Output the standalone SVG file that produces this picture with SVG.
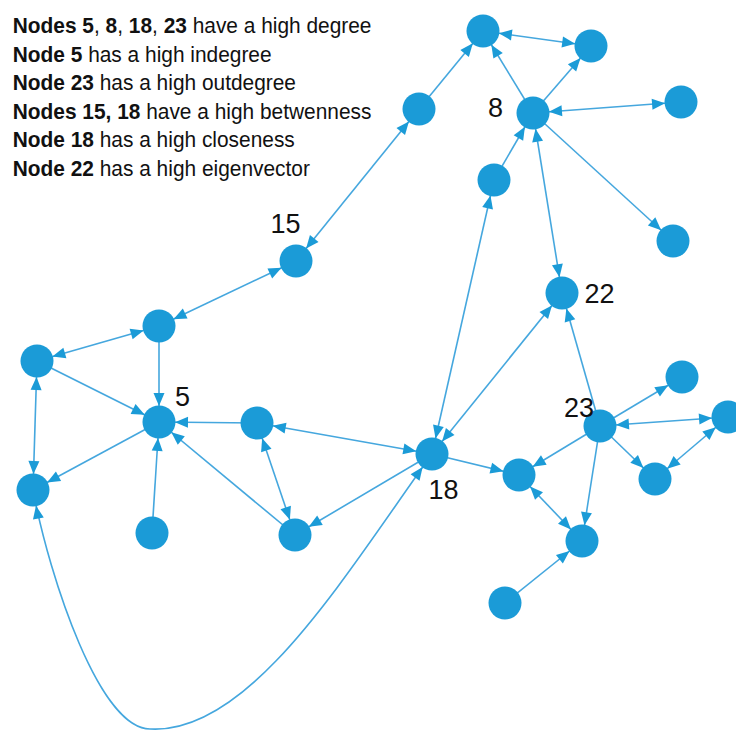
<svg xmlns="http://www.w3.org/2000/svg" width="736" height="731" viewBox="0 0 736 731">
  <style>
    .edge { fill: none; stroke: #45a7de; stroke-width: 1.6; }
    .uni { marker-end: url(#head); }
    .bi { marker-start: url(#head); marker-end: url(#head); }
    .node circle { fill: #1b9bd7; }
    .lbl { font-family: "Liberation Sans", Arial, sans-serif; font-size: 27px; fill: #111; text-anchor: middle; }
    .note { font-family: "Liberation Sans", Arial, sans-serif; font-size: 22px; fill: #111; }
    .note tspan.b { font-weight: bold; }
  </style>
  <defs>
    <!-- arrowhead tip sits on the rim of a 16.5px node -->
    <marker id="head" markerUnits="userSpaceOnUse" markerWidth="14" markerHeight="12" refX="29" refY="0" orient="auto-start-reverse" overflow="visible">
      <path d="M0,-5.5 L13,0 L0,5.5 Z" fill="#1b9bd7"/>
    </marker>
  </defs>
  <rect width="736" height="731" fill="#fff"/>

  <!-- notes, slightly condensed -->
  <g id="notes" transform="translate(12.7,0) scale(0.95,1)">
    <text class="note" x="0" y="33"><tspan class="b">Nodes 5</tspan>, <tspan class="b">8</tspan>, <tspan class="b">18</tspan>, <tspan class="b">23</tspan> have a high degree</text>
    <text class="note" x="0" y="62"><tspan class="b">Node 5</tspan> has a high indegree</text>
    <text class="note" x="0" y="90.5"><tspan class="b">Node 23</tspan> has a high outdegree</text>
    <text class="note" x="0" y="119"><tspan class="b">Nodes 15, 18</tspan> have a high betwenness</text>
    <text class="note" x="0" y="147.5"><tspan class="b">Node 18</tspan> has a high closeness</text>
    <text class="note" x="0" y="176"><tspan class="b">Node 22</tspan> has a high eigenvector</text>
  </g>

  <!-- connectors, drawn centre to centre; nodes cover the ends -->
  <g id="connectors">
    <line class="edge uni" x1="419" y1="109" x2="483" y2="31"/>
    <line class="edge bi"  x1="483" y1="31" x2="591" y2="46"/>
    <line class="edge uni" x1="533" y1="113" x2="483" y2="31"/>
    <line class="edge uni" x1="533" y1="113" x2="591" y2="46"/>
    <line class="edge bi"  x1="533" y1="113" x2="681" y2="102"/>
    <line class="edge uni" x1="494" y1="180" x2="533" y2="113"/>
    <line class="edge bi"  x1="533" y1="113" x2="562" y2="293"/>
    <line class="edge uni" x1="533" y1="113" x2="673" y2="241"/>
    <line class="edge bi"  x1="419" y1="109" x2="296" y2="261"/>
    <line class="edge bi"  x1="296" y1="261" x2="159" y2="326"/>
    <line class="edge bi"  x1="494" y1="180" x2="432" y2="454"/>
    <line class="edge bi"  x1="432" y1="454" x2="562" y2="293"/>
    <line class="edge uni" x1="600" y1="426" x2="562" y2="293"/>
    <line class="edge uni" x1="600" y1="426" x2="682" y2="377"/>
    <line class="edge bi"  x1="600" y1="426" x2="728" y2="417"/>
    <line class="edge uni" x1="600" y1="426" x2="655" y2="479"/>
    <line class="edge bi"  x1="728" y1="417" x2="655" y2="479"/>
    <line class="edge uni" x1="600" y1="426" x2="519" y2="475"/>
    <line class="edge uni" x1="600" y1="426" x2="582" y2="541"/>
    <line class="edge bi"  x1="519" y1="475" x2="582" y2="541"/>
    <line class="edge uni" x1="505" y1="603" x2="582" y2="541"/>
    <line class="edge uni" x1="432" y1="454" x2="519" y2="475"/>
    <line class="edge bi"  x1="257" y1="423" x2="432" y2="454"/>
    <line class="edge uni" x1="432" y1="454" x2="295" y2="535"/>
    <path class="edge bi" d="M33,490 C50,580 100,729 150,729 C250,735 345,575 432,454"/>
    <line class="edge uni" x1="257" y1="423" x2="159" y2="422"/>
    <line class="edge bi"  x1="257" y1="423" x2="295" y2="535"/>
    <line class="edge uni" x1="295" y1="535" x2="159" y2="422"/>
    <line class="edge uni" x1="152" y1="533" x2="159" y2="422"/>
    <line class="edge uni" x1="159" y1="422" x2="33" y2="490"/>
    <line class="edge uni" x1="37" y1="361" x2="159" y2="422"/>
    <line class="edge uni" x1="159" y1="326" x2="159" y2="422"/>
    <line class="edge bi"  x1="159" y1="326" x2="37" y2="361"/>
    <line class="edge bi"  x1="37" y1="361" x2="33" y2="490"/>
  </g>

  <!-- nodes -->
  <g id="n-top" class="node"><circle cx="483" cy="31" r="16.5"/></g>
  <g id="n-topright" class="node"><circle cx="591" cy="46" r="16.5"/></g>
  <g id="n-c" class="node"><circle cx="419" cy="109" r="16.5"/></g>
  <g id="n8" class="node"><circle cx="533" cy="113" r="16.5"/><text class="lbl" x="495.5" y="117">8</text></g>
  <g id="n-d" class="node"><circle cx="681" cy="102" r="16.5"/></g>
  <g id="n-e" class="node"><circle cx="494" cy="180" r="16.5"/></g>
  <g id="n-f" class="node"><circle cx="673" cy="241" r="16.5"/></g>
  <g id="n15" class="node"><circle cx="296" cy="261" r="16.5"/><text class="lbl" x="285.5" y="233">15</text></g>
  <g id="n22" class="node"><circle cx="562" cy="293" r="16.5"/><text class="lbl" x="599.5" y="303">22</text></g>
  <g id="n-g" class="node"><circle cx="159" cy="326" r="16.5"/></g>
  <g id="n-h" class="node"><circle cx="37" cy="361" r="16.5"/></g>
  <g id="n-i" class="node"><circle cx="682" cy="377" r="16.5"/></g>
  <g id="n5" class="node"><circle cx="159" cy="422" r="16.5"/><text class="lbl" x="182.5" y="406">5</text></g>
  <g id="n-j" class="node"><circle cx="257" cy="423" r="16.5"/></g>
  <g id="n23" class="node"><circle cx="600" cy="426" r="16.5"/><text class="lbl" x="579" y="417">23</text></g>
  <g id="n-k" class="node"><circle cx="728" cy="417" r="16.5"/></g>
  <g id="n18" class="node"><circle cx="432" cy="454" r="16.5"/><text class="lbl" x="443.5" y="499">18</text></g>
  <g id="n-l" class="node"><circle cx="519" cy="475" r="16.5"/></g>
  <g id="n-m" class="node"><circle cx="655" cy="479" r="16.5"/></g>
  <g id="n-o" class="node"><circle cx="33" cy="490" r="16.5"/></g>
  <g id="n-p" class="node"><circle cx="152" cy="533" r="16.5"/></g>
  <g id="n-q" class="node"><circle cx="295" cy="535" r="16.5"/></g>
  <g id="n-r" class="node"><circle cx="582" cy="541" r="16.5"/></g>
  <g id="n-s" class="node"><circle cx="505" cy="603" r="16.5"/></g>
</svg>
